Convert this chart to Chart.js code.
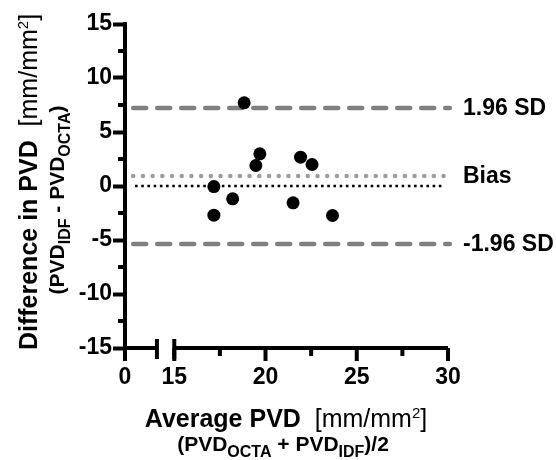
<!DOCTYPE html>
<html>
<head>
<meta charset="utf-8">
<script src="https://cdn.jsdelivr.net/npm/chart.js@4"></script>
<style>
  html, body { margin: 0; padding: 0; background: #fff; }
  canvas { display: block; }
</style>
</head>
<body>
<canvas id="baChart" width="556" height="460"></canvas>
<script>
// --- DATA --- //
// average of the two methods (x) and their difference (y), one per eye
const avgPVD = [18.83, 19.69, 19.47, 21.92, 22.55, 17.17, 18.2, 17.17, 21.51, 23.67]
const diffPVD = [7.7, 2.98, 1.9, 2.67, 1.99, -0.05, -1.19, -2.7, -1.56, -2.73]

// limits of agreement and bias
const limitNames = ['1.96 SD', 'Bias', '-1.96 SD']
const limitValues = [7.22, 0.92, -5.37]
const zeroValue = 0

// x extent of the reference lines
const limitSpan = [12.75, 30.1]
const zeroSpan = [12.85, 29.8]

// ticks
const yMajorTicks = [-15, -10, -5, 0, 5, 10, 15]
const yMinorTicks = [-12.5, -7.5, -2.5, 2.5, 7.5, 12.5]
const xLowTicks = [0]
const xMajorTicks = [15, 20, 25, 30]
const xMinorTicks = [17.5, 22.5, 27.5]
const xLowEnd = 1.75 // end of the short segment before the break

const FONT = "'Liberation Sans', Arial, sans-serif"
Chart.defaults.font.family = FONT
Chart.defaults.color = '#000'

const AXIS_W = 4

// --- HELPERS --- //
// draws a line of text made of several runs (bold / normal / sub / sup), centred on cx
function drawRich (ctx, parts, cx, cy) {
  let total = 0
  parts.forEach(p => { ctx.font = p.font; total += ctx.measureText(p.text).width })
  let x = cx - total / 2
  parts.forEach(p => {
    ctx.font = p.font
    ctx.fillText(p.text, x, cy + (p.dy || 0))
    x += ctx.measureText(p.text).width
  })
}

const B25 = `bold 25px ${FONT}`
const N25 = `25px ${FONT}`
const N15 = `15px ${FONT}`
const B21 = `bold 21px ${FONT}`
const B16 = `bold 16px ${FONT}`

// --- PLUGIN: broken x axis + minor ticks --- //
const brokenAxis = {
  id: 'brokenAxis',
  afterDraw: chart => {
    const ctx = chart.ctx
    const { xLow, x, y } = chart.scales
    const base = chart.chartArea.bottom
    const seg = (x1, y1, x2, y2) => {
      ctx.beginPath()
      ctx.moveTo(x1, y1)
      ctx.lineTo(x2, y2)
      ctx.stroke()
    }
    ctx.save()
    ctx.strokeStyle = '#000'
    ctx.lineWidth = AXIS_W
    ctx.lineCap = 'butt'

    // short segment (0 .. break) and long segment (15 .. 30)
    const lowEnd = xLow.getPixelForValue(xLowEnd)
    const highStart = x.getPixelForValue(x.min)
    const highEnd = x.getPixelForValue(x.max)
    seg(xLow.getPixelForValue(0), base, lowEnd, base)
    seg(highStart, base, highEnd, base)

    // caps on each side of the break
    seg(lowEnd, base - 9, lowEnd, base + 11)
    seg(highStart, base - 9, highStart, base + 11)

    // major / minor tick marks
    xLowTicks.forEach(v => seg(xLow.getPixelForValue(v), base - 2, xLow.getPixelForValue(v), base + 13))
    xMajorTicks.forEach(v => seg(x.getPixelForValue(v), base, x.getPixelForValue(v), base + 13))
    xMinorTicks.forEach(v => seg(x.getPixelForValue(v), base, x.getPixelForValue(v), base + 8))
    const left = chart.chartArea.left
    yMinorTicks.forEach(v => seg(left - 7, y.getPixelForValue(v), left, y.getPixelForValue(v)))
    ctx.restore()
  }
}

// --- PLUGIN: titles and limit labels --- //
const labels = {
  id: 'labels',
  afterDraw: chart => {
    const ctx = chart.ctx
    const { y } = chart.scales
    ctx.save()
    ctx.fillStyle = '#000'
    ctx.textAlign = 'left'

    // limit labels on the right
    ctx.textBaseline = 'middle'
    ctx.font = `bold 23px ${FONT}`
    limitNames.forEach((name, i) => {
      ctx.fillText(name, chart.chartArea.right + 15, y.getPixelForValue(limitValues[i]) + 1)
    })

    ctx.textBaseline = 'alphabetic'
    // x axis title
    drawRich(ctx, [
      { text: 'Average PVD', font: B25 },
      { text: '  [mm/mm', font: N25 },
      { text: '2', font: N15, dy: -9 },
      { text: ']', font: N25 }
    ], 286, 427)
    drawRich(ctx, [
      { text: '(PVD', font: B21 },
      { text: 'OCTA', font: B16, dy: 6 },
      { text: ' + PVD', font: B21 },
      { text: 'IDF', font: B16, dy: 6 },
      { text: ')/2', font: B21 }
    ], 283, 451)

    // y axis title (rotated)
    ctx.save()
    ctx.translate(37, 182)
    ctx.rotate(-Math.PI / 2)
    drawRich(ctx, [
      { text: 'Difference in PVD', font: B25 },
      { text: '  [mm/mm', font: N25 },
      { text: '2', font: N15, dy: -9 },
      { text: ']', font: N25 }
    ], 0, 0)
    ctx.restore()
    ctx.save()
    ctx.translate(64, 200)
    ctx.rotate(-Math.PI / 2)
    drawRich(ctx, [
      { text: '(PVD', font: B21 },
      { text: 'IDF', font: B16, dy: 6 },
      { text: ' - PVD', font: B21 },
      { text: 'OCTA', font: B16, dy: 6 },
      { text: ')', font: B21 }
    ], 0, 0)
    ctx.restore()
    ctx.restore()
  }
}

// --- DATASETS --- //
const points = avgPVD.map((v, i) => ({ x: v, y: diffPVD[i] }))

const limitLine = (value, style) => Object.assign({
  type: 'line',
  data: [{ x: limitSpan[0], y: value }, { x: limitSpan[1], y: value }],
  xAxisID: 'x',
  yAxisID: 'y',
  pointRadius: 0,
  fill: false,
  clip: false,
  order: 2
}, style)

const dashed = { borderColor: '#808080', borderWidth: 4.5, borderDash: [13, 11], borderCapStyle: 'round' }
const dotted = { borderColor: '#9c9c9c', borderWidth: 4.5, borderDash: [0, 9.7], borderCapStyle: 'round' }

const datasets = [
  {
    type: 'scatter',
    data: points,
    xAxisID: 'x',
    yAxisID: 'y',
    backgroundColor: '#000',
    borderWidth: 0,
    pointRadius: 6.5,
    order: 0
  },
  limitLine(limitValues[0], dashed),
  limitLine(limitValues[1], dotted),
  limitLine(limitValues[2], dashed),
  {
    type: 'line',
    data: [{ x: zeroSpan[0], y: zeroValue }, { x: zeroSpan[1], y: zeroValue }],
    xAxisID: 'x',
    yAxisID: 'y',
    borderColor: '#000',
    borderWidth: 2.6,
    borderDash: [2.6, 3.6],
    pointRadius: 0,
    clip: false,
    order: 1
  }
]

// --- SCALES --- //
const tickFont = { size: 23, weight: 'bold' }

const config = {
  type: 'scatter',
  data: { datasets },
  options: {
    responsive: false,
    animation: false,
    events: [],
    layout: { padding: { top: 24, right: 108, left: 0, bottom: 0 } },
    plugins: { legend: { display: false }, tooltip: { enabled: false } },
    scales: {
      xLow: {
        type: 'linear',
        axis: 'x',
        position: 'bottom',
        stack: 'xs',
        stackWeight: 2.7,
        min: 0,
        max: 2.7,
        afterBuildTicks: axis => { axis.ticks = xLowTicks.map(v => ({ value: v })) },
        afterFit: s => { s.height = 112 },
        grid: { display: false, drawTicks: false },
        border: { display: false },
        ticks: { font: tickFont, padding: 16, maxRotation: 0 }
      },
      x: {
        type: 'linear',
        position: 'bottom',
        stack: 'xs',
        stackWeight: 15,
        min: 15,
        max: 30,
        afterBuildTicks: axis => { axis.ticks = xMajorTicks.map(v => ({ value: v })) },
        afterFit: s => { s.height = 112 },
        grid: { display: false, drawTicks: false },
        border: { display: false },
        ticks: { font: tickFont, padding: 16, maxRotation: 0 }
      },
      y: {
        type: 'linear',
        position: 'left',
        min: -15,
        max: 15,
        afterBuildTicks: axis => { axis.ticks = yMajorTicks.map(v => ({ value: v })) },
        afterFit: s => { s.width = 125 },
        grid: {
          drawOnChartArea: false,
          drawTicks: true,
          tickLength: 12,
          tickWidth: AXIS_W,
          tickColor: '#000'
        },
        border: { display: true, color: '#000', width: AXIS_W },
        ticks: { font: tickFont, padding: 1 }
      }
    }
  },
  plugins: [brokenAxis, labels]
}

const baChart = new Chart(document.getElementById('baChart'), config)
</script>
</body>
</html>
